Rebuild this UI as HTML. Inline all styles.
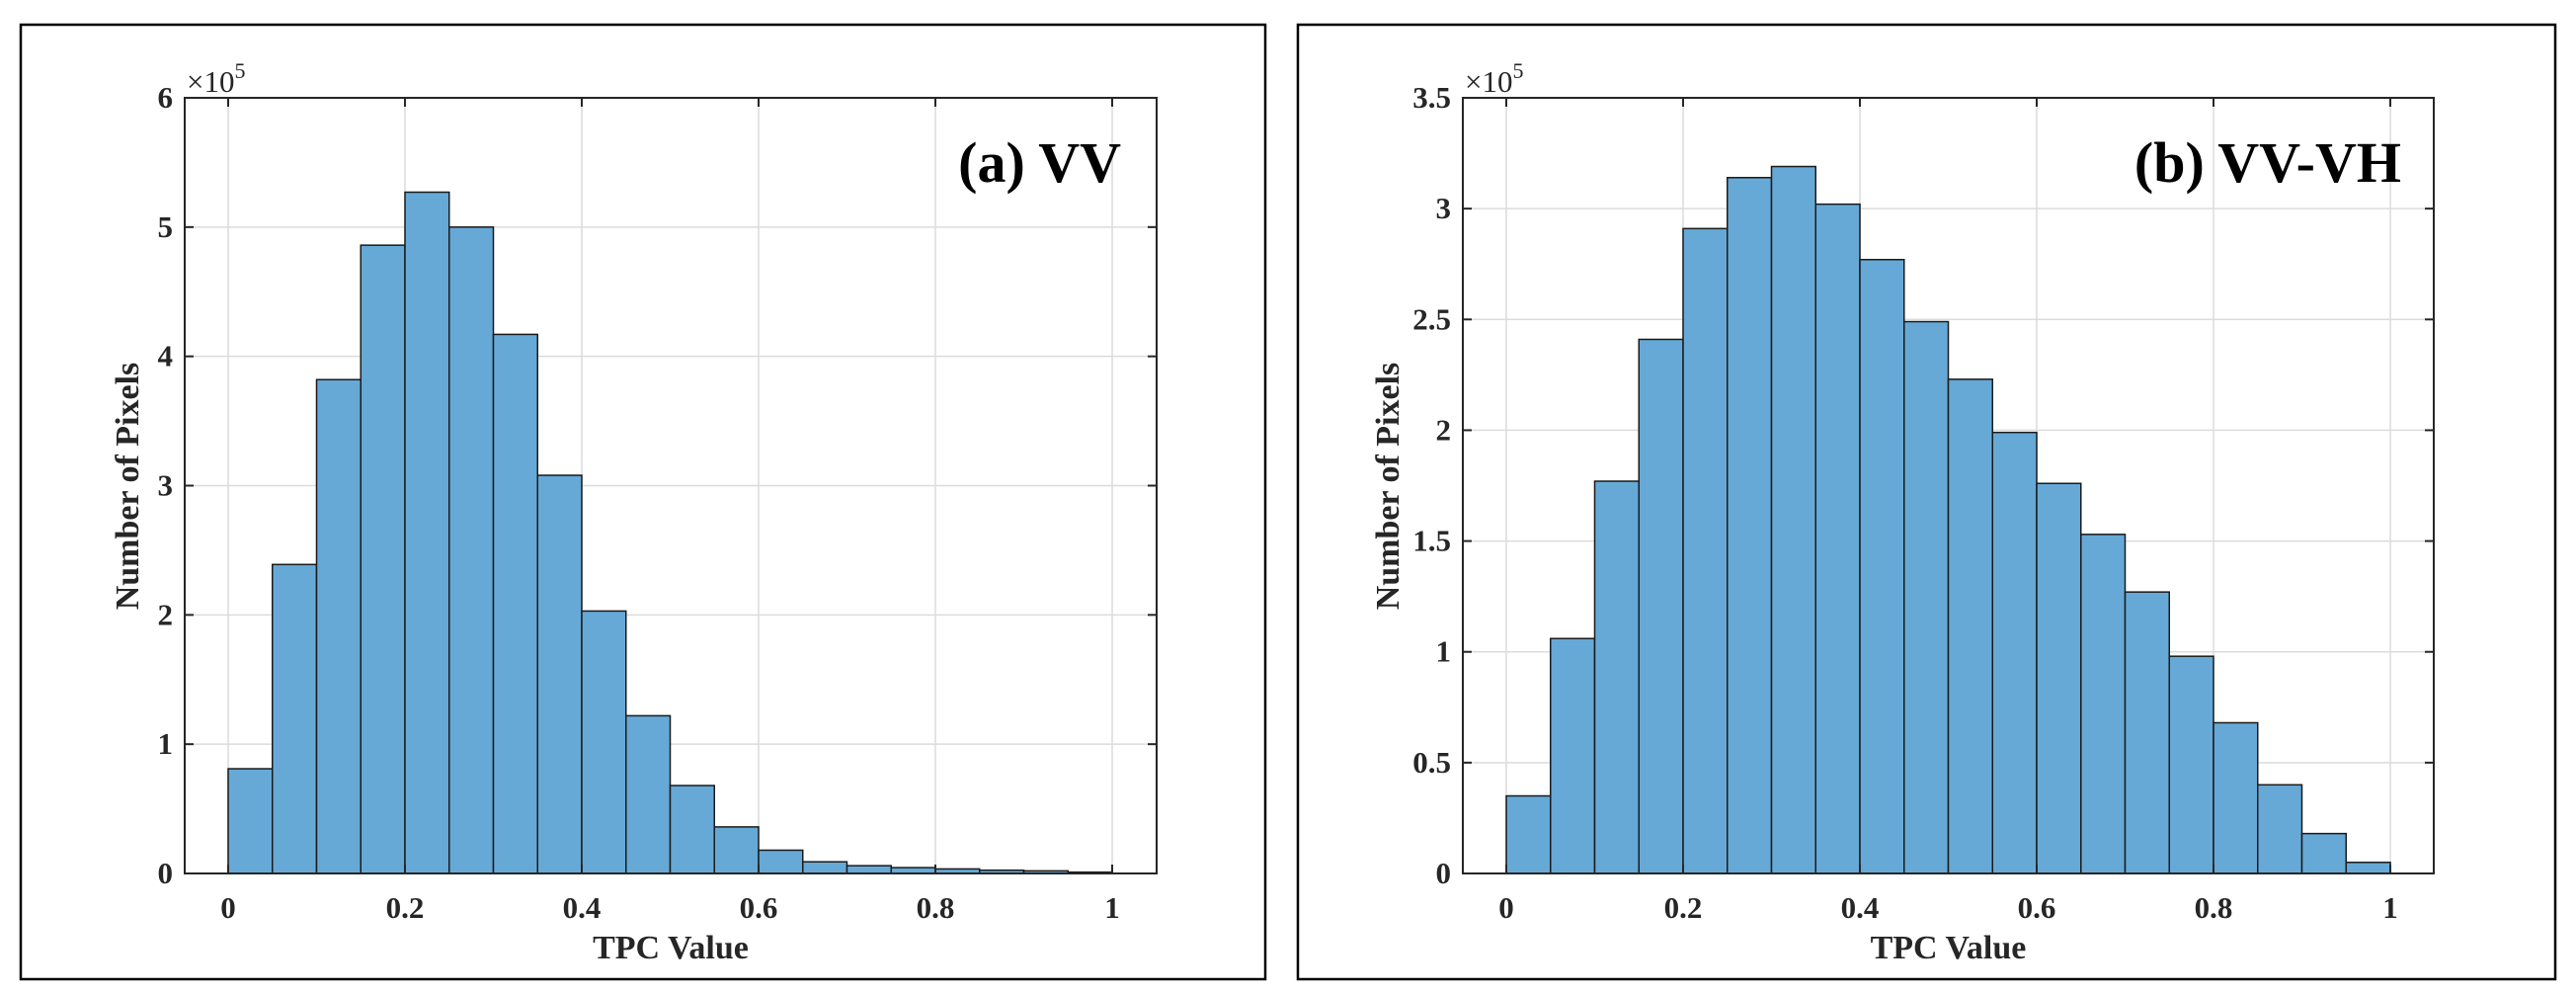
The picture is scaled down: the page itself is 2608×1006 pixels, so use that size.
<!DOCTYPE html>
<html><head><meta charset="utf-8"><style>
html,body{margin:0;padding:0;background:#fff;}
svg{display:block;font-family:"Liberation Serif",serif;}
</style></head><body>
<svg id="fig" width="2608" height="1006" viewBox="0 0 2608 1006"></svg>
<script>
const binEdgesStart = [0,0.05,0.1,0.15,0.2,0.25,0.3,0.35,0.4,0.45,0.5,0.55,0.6,0.65,0.7,0.75,0.8,0.85,0.9,0.95];
const vvCounts = [0.81,2.39,3.82,4.86,5.27,5.00,4.17,3.08,2.03,1.22,0.68,0.36,0.18,0.09,0.06,0.045,0.035,0.025,0.02,0.01];
const vvhCounts = [0.35,1.06,1.77,2.41,2.91,3.14,3.19,3.02,2.77,2.49,2.23,1.99,1.76,1.53,1.27,0.98,0.68,0.40,0.18,0.05];
const xTicks = [0,0.2,0.4,0.6,0.8,1];
const xTickLabels = ["0","0.2","0.4","0.6","0.8","1"];
const vvYTicks = [0,1,2,3,4,5,6];
const vvYTickLabels = ["0","1","2","3","4","5","6"];
const vvhYTicks = [0,0.5,1,1.5,2,2.5,3,3.5];
const vvhYTickLabels = ["0","0.5","1","1.5","2","2.5","3","3.5"];
const NS="http://www.w3.org/2000/svg";
const svg=document.getElementById('fig');
function mk(tag,attrs,parent){const e=document.createElementNS(NS,tag);for(const k in attrs)e.setAttribute(k,attrs[k]);(parent||svg).appendChild(e);return e;}
function panel(cfg){
  const g=mk('g',{});
  
  
  const fr=mk('rect',{x:cfg.fx,y:25,width:cfg.fw,height:966,fill:'none',stroke:'#000','stroke-width':2.5},g);
  
  
  const L=cfg.L,R=cfg.R,T=99,B=884;
  const xs=v=>cfg.x0+(cfg.x1-cfg.x0)*v;
  const ys=v=>B-(B-T)*v/cfg.ymax;
  xTicks.forEach(t=>{const l=mk('line',{x1:xs(t),x2:xs(t),y1:T,y2:B,stroke:'#dcdcdc','stroke-width':1.5},g);
    });
  cfg.yt.forEach(t=>{const l=mk('line',{x1:L,x2:R,y1:ys(t),y2:ys(t),stroke:'#dcdcdc','stroke-width':1.5},g);
    });
  cfg.data.forEach((v,i)=>{const x=xs(binEdgesStart[i]),w=xs(binEdgesStart[i]+0.05)-x;
    const r=mk('rect',{x:x,y:ys(v),width:w,height:B-ys(v),fill:'#66a9d6',stroke:'#1a1a1a','stroke-width':1.5},g);
    });
  const ax=mk('rect',{x:L,y:T,width:R-L,height:B-T,fill:'none',stroke:'#262626','stroke-width':2},g);
  
  xTicks.forEach((t,i)=>{mk('line',{x1:xs(t),x2:xs(t),y1:B,y2:B-9,stroke:'#262626','stroke-width':2},g);
    mk('line',{x1:xs(t),x2:xs(t),y1:T,y2:T+9,stroke:'#262626','stroke-width':2},g);
    const tx=mk('text',{x:xs(t),y:929,'text-anchor':'middle','font-size':31,'font-weight':'bold',fill:'#262626'},g);
    tx.textContent=xTickLabels[i];});
  cfg.yt.forEach((t,i)=>{mk('line',{x1:L,x2:L+9,y1:ys(t),y2:ys(t),stroke:'#262626','stroke-width':2},g);
    mk('line',{x1:R,x2:R-9,y1:ys(t),y2:ys(t),stroke:'#262626','stroke-width':2},g);
    const tx=mk('text',{x:L-12,y:ys(t)+10,'text-anchor':'end','font-size':31,'font-weight':'bold',fill:'#262626'},g);
    tx.textContent=cfg.ytl[i];});
  const ex=mk('text',{x:L+2,y:93,'font-size':31,fill:'#262626'},g);
  ex.innerHTML='×10<tspan dy="-14" font-size="22">5</tspan>';
  
  const xl=mk('text',{x:(L+R)/2,y:970,'text-anchor':'middle','font-size':34,'font-weight':'bold',fill:'#262626'},g);
  xl.textContent='TPC Value';
  const yl=mk('text',{x:0,y:0,'text-anchor':'middle','font-size':34,'font-weight':'bold',fill:'#262626',transform:`translate(${cfg.ylx},492) rotate(-90)`},g);
  yl.textContent='Number of Pixels';
  const tt=mk('text',{x:cfg.tx,y:184,'text-anchor':'end','font-size':58,'font-weight':'bold',fill:'#000'},g);
  tt.textContent=cfg.title;
}
panel({name:'vv-histogram',fx:21,fw:1260,L:187,R:1171,x0:231,x1:1126,ymax:6,yt:vvYTicks,ytl:vvYTickLabels,data:vvCounts,ylx:140,tx:1135,title:'(a) VV'});
panel({name:'vv-vh-histogram',fx:1314,fw:1273,L:1481,R:2464,x0:1525,x1:2420,ymax:3.5,yt:vvhYTicks,ytl:vvhYTickLabels,data:vvhCounts,ylx:1416,tx:2431,title:'(b) VV-VH'});
</script>
</body></html>
